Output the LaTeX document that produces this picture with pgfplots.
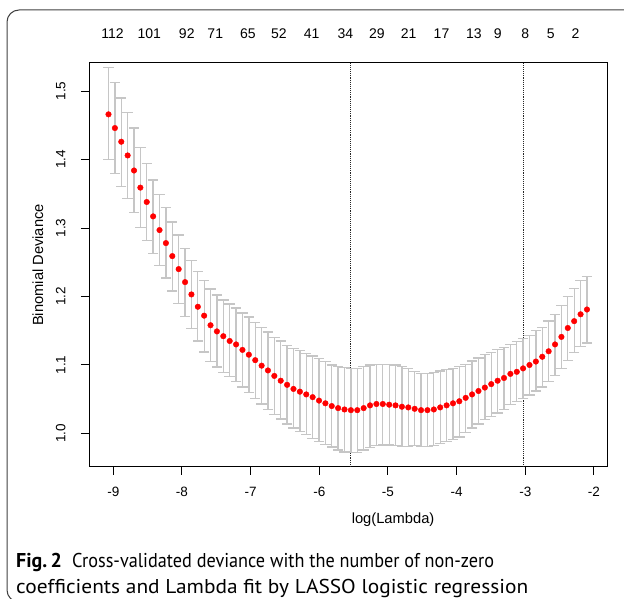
\documentclass[border=0pt]{standalone}
\usepackage{graphicx}
\usepackage{pgfplots}
\pgfplotsset{compat=1.18}
\usepackage{pgfplotstable}
\usepackage{fontspec}
\setmainfont{Liberation Sans}
\newfontfamily\capfont{PT Sans}
\definecolor{barg}{RGB}{198,198,198}

\pgfplotstableread{
x y up lo
-9.070 1.466 1.534 1.400
-8.977 1.446 1.513 1.380
-8.884 1.426 1.490 1.361
-8.791 1.406 1.469 1.343
-8.698 1.384 1.446 1.323
-8.606 1.359 1.418 1.301
-8.513 1.338 1.394 1.282
-8.420 1.317 1.370 1.263
-8.327 1.297 1.349 1.245
-8.234 1.278 1.330 1.227
-8.141 1.259 1.309 1.208
-8.048 1.240 1.290 1.190
-7.955 1.221 1.270 1.171
-7.862 1.203 1.253 1.153
-7.769 1.185 1.236 1.135
-7.677 1.172 1.223 1.119
-7.584 1.158 1.211 1.105
-7.491 1.149 1.202 1.097
-7.398 1.142 1.195 1.089
-7.305 1.135 1.189 1.083
-7.212 1.130 1.183 1.076
-7.119 1.122 1.176 1.068
-7.026 1.115 1.170 1.060
-6.933 1.107 1.162 1.051
-6.840 1.099 1.155 1.043
-6.748 1.092 1.148 1.035
-6.655 1.084 1.140 1.028
-6.562 1.077 1.135 1.021
-6.469 1.071 1.128 1.014
-6.376 1.065 1.124 1.008
-6.283 1.061 1.121 1.003
-6.190 1.057 1.117 0.998
-6.097 1.053 1.113 0.993
-6.004 1.048 1.109 0.988
-5.911 1.044 1.105 0.984
-5.819 1.040 1.100 0.980
-5.726 1.037 1.098 0.976
-5.633 1.035 1.096 0.973
-5.540 1.034 1.095 0.972
-5.447 1.034 1.095 0.972
-5.354 1.037 1.098 0.976
-5.261 1.041 1.100 0.979
-5.168 1.043 1.101 0.982
-5.075 1.043 1.101 0.983
-4.982 1.042 1.101 0.983
-4.890 1.041 1.100 0.982
-4.797 1.039 1.098 0.981
-4.704 1.038 1.095 0.981
-4.611 1.036 1.090 0.982
-4.518 1.034 1.088 0.981
-4.425 1.034 1.088 0.981
-4.332 1.035 1.089 0.982
-4.239 1.038 1.091 0.985
-4.146 1.041 1.093 0.988
-4.053 1.044 1.095 0.991
-3.961 1.047 1.098 0.995
-3.868 1.052 1.101 1.001
-3.775 1.057 1.106 1.008
-3.682 1.062 1.110 1.014
-3.589 1.067 1.115 1.020
-3.496 1.072 1.118 1.025
-3.403 1.077 1.123 1.030
-3.310 1.081 1.126 1.035
-3.217 1.087 1.130 1.042
-3.124 1.090 1.134 1.047
-3.032 1.095 1.139 1.051
-2.939 1.100 1.143 1.056
-2.846 1.105 1.150 1.062
-2.753 1.112 1.155 1.068
-2.660 1.120 1.164 1.076
-2.567 1.130 1.174 1.085
-2.474 1.141 1.187 1.095
-2.381 1.154 1.200 1.107
-2.288 1.164 1.212 1.118
-2.195 1.174 1.223 1.127
-2.102 1.181 1.229 1.132
}\cvdata

\begin{document}
\begin{tikzpicture}[x=1pt,y=1pt]
\useasboundingbox (0,0) rectangle (624,599);
\draw[black!75, line width=1pt, rounded corners=12pt] (7,-3) rectangle (660,589);
% top axis with numbers of non-zero coefficients
\begin{axis}[at={(89pt,132pt)}, anchor=south west, width=518pt, height=404pt, scale only axis,
  xmin=-9.354, xmax=-1.81, ymin=0.951, ymax=1.541,
  axis line style={draw=none}, ytick=\empty,
  xtick={-9.010,-8.475,-7.93,-7.515,-7.04,-6.59,-6.11,-5.62,-5.16,-4.70,-4.22,-3.75,-3.40,-3.00,-2.63,-2.27},
  xticklabels={112,101,92,71,65,52,41,34,29,21,17,13,9,8,5,2},
  xticklabel pos=right, major tick length=0pt, tick style={draw=none},
  xticklabel style={font=\fontsize{14}{16}\selectfont, anchor=base},
  xticklabel shift=24pt]
\addplot[draw=none] coordinates {(-5,1.2)};
\end{axis}
\begin{axis}[at={(89pt,132pt)}, anchor=south west, width=518pt, height=404pt, scale only axis,
  xmin=-9.354, xmax=-1.81, ymin=0.951, ymax=1.541,
  axis line style={black, line width=1pt},
  tick style={black, line width=1pt}, tick align=outside, major tick length=8pt,
  xtick pos=left, ytick pos=left,
  xtick={-9,-8,-7,-6,-5,-4,-3,-2},
  xticklabels={-9,-8,-7,-6,-5,-4,-3,-2},
  ytick={1.0,1.1,1.2,1.3,1.4,1.5},
  yticklabels={1.0,1.1,1.2,1.3,1.4,1.5},
  xticklabel style={font=\fontsize{13.5}{15}\selectfont},
  yticklabel style={font=\fontsize{13.5}{15}\selectfont, rotate=90, anchor=south},
  xticklabel shift=9pt, yticklabel shift=12pt,
  xlabel={log(Lambda)}, ylabel={Binomial Deviance},
  every axis x label/.style={at={(axis description cs:0.587,0)}, anchor=center, yshift=-53pt, font=\fontsize{14.7}{17}\selectfont},
  every axis y label/.style={at={(axis description cs:-0.0985,0.5)}, anchor=center, rotate=90, font=\fontsize{14.7}{17}\selectfont},
  clip=false]
\draw[black!85, line width=0.9pt, densely dotted] (axis cs:-5.544,0.951) -- (axis cs:-5.544,1.541);
\draw[black!85, line width=0.9pt, densely dotted] (axis cs:-3.026,0.951) -- (axis cs:-3.026,1.541);
\addplot[only marks, mark=*, mark size=2.8pt, color=red,
  error bars/.cd, y dir=both, y explicit,
  error bar style={barg, line width=1.3pt},
  error mark options={barg, line width=1.3pt, mark size=5.2pt, rotate=90}]
  table[x=x, y=y, y error plus expr=\thisrow{up}-\thisrow{y}, y error minus expr=\thisrow{y}-\thisrow{lo}] {\cvdata};
\end{axis}
\node[anchor=base west, inner sep=0pt, font=\capfont\fontsize{20}{24}\selectfont] at (16,31.4) {\textbf{Fig.\,2}\hspace{10pt}\resizebox{422pt}{\height}{Cross-validated deviance with the number of non-zero}};
\node[anchor=base west, inner sep=0pt, font=\capfont\fontsize{20}{24}\selectfont] at (16,5.5) {\resizebox{512pt}{\height}{coefficients and Lambda fit by LASSO logistic regression}};
\end{tikzpicture}
\end{document}
